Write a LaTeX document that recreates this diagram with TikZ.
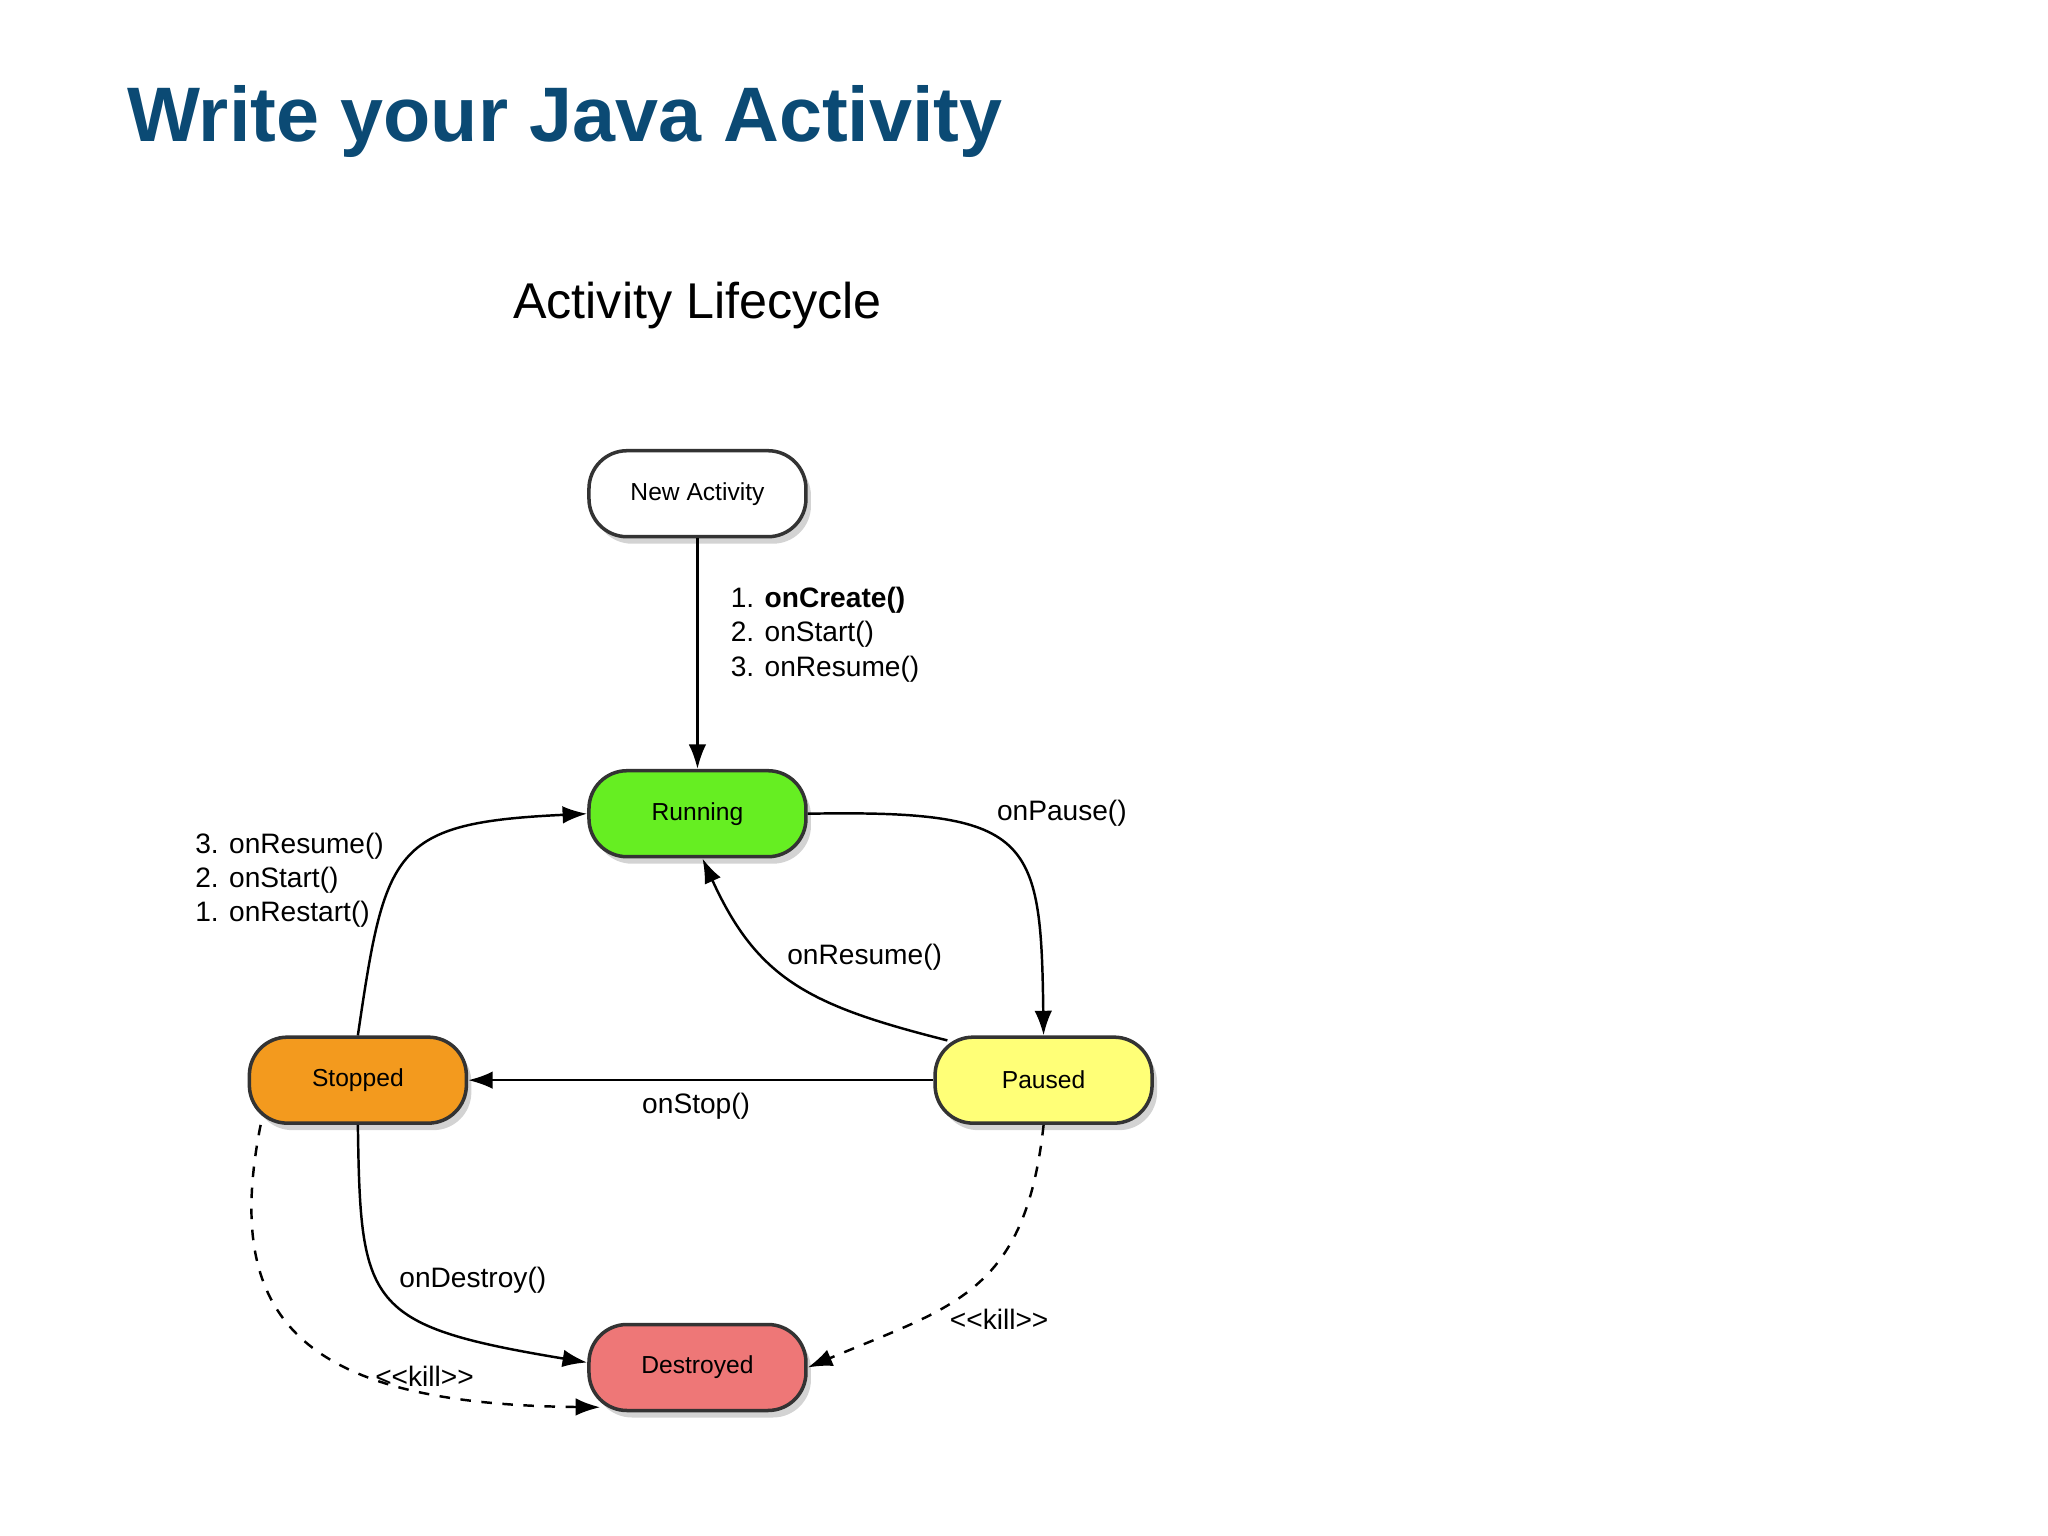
\documentclass[tikz,border=0pt]{standalone}
\usepackage{fontspec}
\setmainfont{Liberation Sans}
\usetikzlibrary{arrows.meta,shadows}
\begin{document}
\begin{tikzpicture}[x=0.01306cm,y=-0.01306cm,
  st/.style={draw=black!80,line width=1pt,rounded corners=0.38cm,minimum width=2.17cm,minimum height=0.86cm,font=\fontsize{7}{9}\selectfont,drop shadow={shadow xshift=0.05cm,shadow yshift=-0.07cm,opacity=0.35}},
  lab/.style={font=\fontsize{8}{9.8}\selectfont,align=left},
  ar/.style={-{Latex[length=7pt,width=5pt]},line width=0.7pt},
  da/.style={ar,dashed}]
\useasboundingbox (0,0) rectangle (1568,1176);
\definecolor{tblue}{HTML}{0B4A74}
\node[anchor=west,font=\fontsize{22}{26}\selectfont\bfseries,text=tblue] (title) at (88,93) {Write your Java Activity};
\node[font=\fontsize{14.3}{17}\selectfont] (sub) at (534,234) {Activity Lifecycle};
\node[st,fill=white] (new) at (534,378) {New Activity};
\node[st,fill={rgb,255:red,102;green,238;blue,34}] (run) at (534,623) {Running};
\node[st,fill={rgb,255:red,243;green,154;blue,30}] (stop) at (274,827) {Stopped};
\node[st,fill={rgb,255:red,255;green,255;blue,119}] (pause) at (799,827) {Paused};
\node[st,fill={rgb,255:red,238;green,119;blue,119}] (dest) at (534,1047) {Destroyed};
\draw[ar] (new) -- (run);
\node[lab,anchor=north west] (l1) at (550,440) {1. \textbf{onCreate()}\\2. onStart()\\3. onResume()};
\draw[ar] (run.east) .. controls (790,620) and (797,640) .. (pause.north);
\node[lab] (l2) at (813,623) {onPause()};
\draw[ar] ([xshift=0.14cm,yshift=-0.05cm]pause.north west) .. controls (620,770) and (580,750) .. ([xshift=0.05cm]run.south);
\node[lab] (l3) at (662,733) {onResume()};
\draw[ar] (pause) -- (stop);
\node[lab] (l4) at (533,847) {onStop()};
\draw[ar] (stop.north) .. controls (295,650) and (300,630) .. (run.west);
\node[lab,anchor=north west] (l5) at (140,628) {3. onResume()\\2. onStart()\\1. onRestart()};
\draw[ar] (stop.south) .. controls (276,1000) and (280,1015) .. ([yshift=0.05cm]dest.west);
\node[lab] (l6) at (362,980) {onDestroy()};
\draw[da] ([xshift=0.13cm]stop.south west) .. controls (170,1010) and (230,1075) .. ([xshift=0.13cm,yshift=0.05cm]dest.south west);
\node[lab] (l7) at (325,1054) {<{}<kill>{}>};
\draw[da] (pause.south) .. controls (785,990) and (730,1000) .. (dest.east);
\node[lab] (l8) at (765,1010) {<{}<kill>{}>};
\end{tikzpicture}
\end{document}
